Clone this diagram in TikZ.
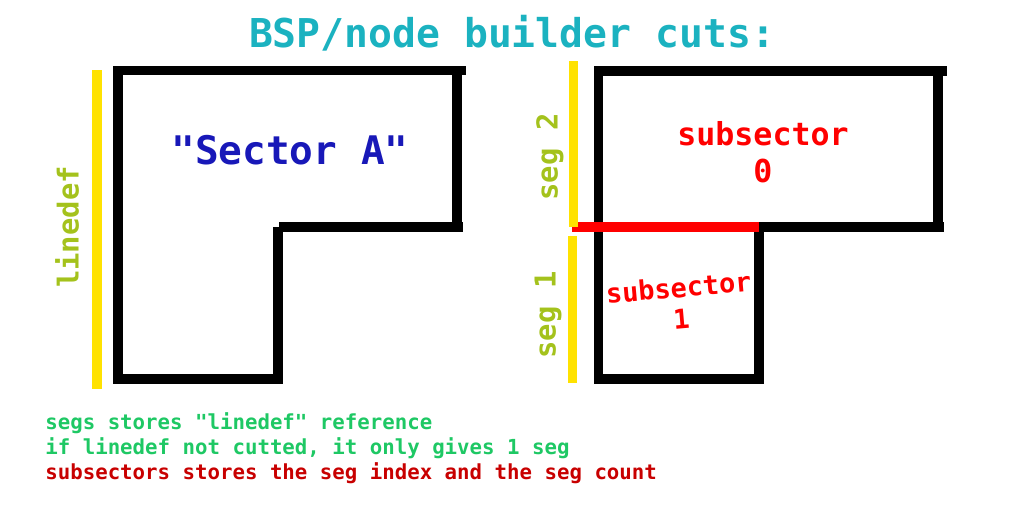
\documentclass[tikz,border=0pt]{standalone}
\usepackage{fontspec}
\setmonofont{DejaVu Sans Mono}
\definecolor{titleteal}{RGB}{27,178,192}
\definecolor{sectorblue}{RGB}{24,24,184}
\definecolor{segolive}{RGB}{164,194,28}
\definecolor{segyellow}{RGB}{255,226,0}
\definecolor{cutred}{RGB}{255,0,0}
\definecolor{notegreen}{RGB}{30,200,100}
\definecolor{notered}{RGB}{200,0,0}
\tikzset{
  wall/.style={line width=5.4pt, black},
  segline/.style={line width=5.6pt, segyellow},
  lbl/.style={font=\ttfamily\bfseries, inner sep=0pt},
  note/.style={lbl, anchor=base west, font=\ttfamily\bfseries\fontsize{11.8}{13}\selectfont}
}
\begin{document}
\begin{tikzpicture}[x=0.02cm, y=-0.02cm]
    \useasboundingbox (0,0) rectangle (1024,512);
    \node[lbl, titleteal, font=\ttfamily\bfseries\fontsize{22.6}{26}\selectfont] (title) at (512,33) {BSP/node builder cuts:};
    % left sector, walls drawn one by one
    \foreach \xa/\ya/\xb/\yb in {114/70.5/466/70.5, 118/66/118/384, 457/75/457/222,%
    279/227/463/227, 278/227/278/384, 113/379/283/379}
    {
    \draw[wall] (\xa,\ya) -- (\xb,\yb);
    }
    \coordinate (ldtop) at (97,70);
    \coordinate (ldbot) at (97,389);
    \draw[segline] (ldtop) -- (ldbot);
    \node[lbl, segolive, rotate=90, font=\ttfamily\bfseries\fontsize{16.4}{18}\selectfont] (linedef) at (67,227) {linedef};
    \node[lbl, sectorblue, font=\ttfamily\bfseries\fontsize{22.4}{26}\selectfont] (sectora) at (290,150) {"Sector A"};
    % right sector, split in two subsectors
    \foreach \xa/\ya/\xb/\yb in {595/71/947/71, 598.5/66/598.5/384, 938/76/938/222,%
    759/227/944/227, 759/227/759/384, 594/379/764/379}
    {
    \draw[wall] (\xa,\ya) -- (\xb,\yb);
    }
    \coordinate (cutl) at (572,227);
    \coordinate (cutr) at (759,227);
    \draw[line width=5.6pt, cutred] (cutl) -- (cutr);
    \coordinate (s2top) at (573.5,61);
    \coordinate (s2bot) at (573.5,227);
    \coordinate (s1top) at (572.5,236);
    \coordinate (s1bot) at (572.5,383);
    \draw[segline] (s2top) -- (s2bot);
    \draw[segline] (s1top) -- (s1bot);
    \node[lbl, segolive, rotate=90, font=\ttfamily\bfseries\fontsize{16.4}{18}\selectfont] (seg2) at (550,157) {seg 2};
    \node[lbl, segolive, rotate=90, font=\ttfamily\bfseries\fontsize{16.4}{18}\selectfont] (seg1) at (548,315) {seg 1};
    \node[lbl, cutred, align=center, font=\ttfamily\bfseries\fontsize{18}{21}\selectfont] (sub0) at (763,152) {subsector\\0};
    \node[lbl, cutred, align=center, rotate=5, font=\ttfamily\bfseries\fontsize{15.3}{18}\selectfont] (sub1) at (680,303) {subsector\\1};
    % notes
    \node[note, notegreen] (note1) at (45,429) {segs stores "linedef" reference};
    \node[note, notegreen] (note2) at (45,454) {if linedef not cutted, it only gives 1 seg};
    \node[note, notered] (note3) at (45,479) {subsectors stores the seg index and the seg count};
\end{tikzpicture}
\end{document}
